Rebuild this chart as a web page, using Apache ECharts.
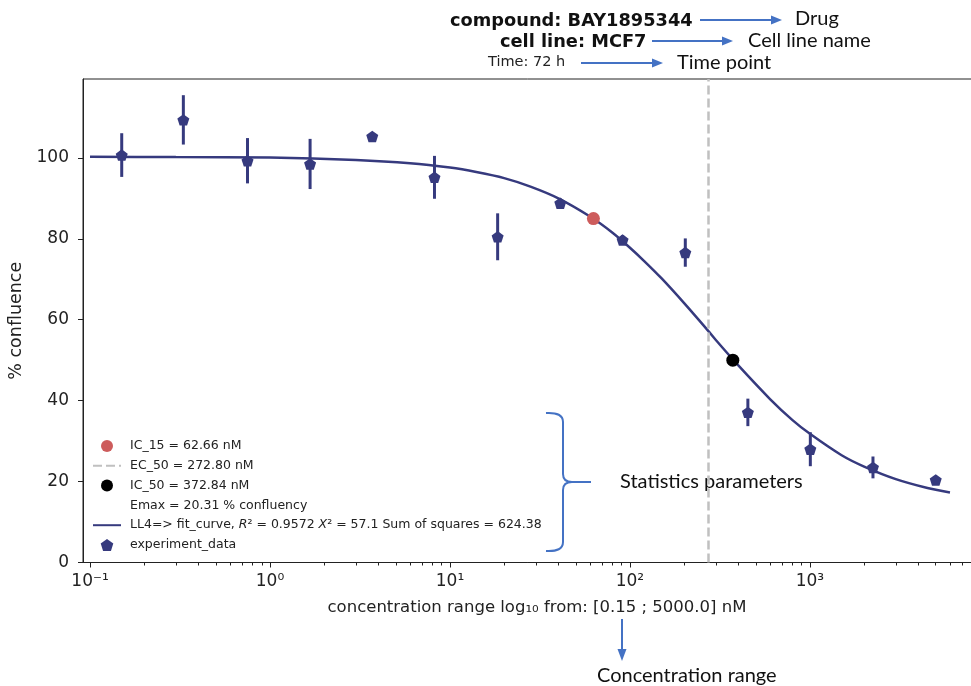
<!DOCTYPE html>
<html>
<head>
<meta charset="utf-8">
<script src="https://cdn.jsdelivr.net/npm/echarts@6/dist/echarts.min.js"></script>
<style>
  html, body { margin: 0; padding: 0; background: #fff; }
  #main { width: 971px; height: 686px; }
</style>
</head>
<body>
<div id="main"></div>
<script>
// concentrations of the dilution series (nM)
var conc = [0.15, 0.33, 0.75, 1.67, 3.7, 8.2, 18.4, 41, 91, 203, 452, 1005, 2240, 5000];
// mean % confluence and its error bar half-length
var confluence = [100.7, 109.4, 99.3, 98.5, 105.3, 95.2, 80.5, 88.8, 79.7, 76.6, 37.1, 28.0, 23.5, 20.4];
var errors = [5.4, 6.1, 5.6, 6.2, 0.6, 5.3, 5.8, 0.8, 1.2, 3.5, 3.4, 4.2, 2.7, 0.6];
// LL4 fit curve
var fitConc = [0.1, 0.3, 1, 3, 6, 10, 14, 20, 28, 40, 60, 80, 100, 120, 150, 200, 272.8, 300, 400, 600, 800, 1000, 1500, 2000, 3000, 4500, 6000];
var fitValues = [100.3, 100.2, 100.1, 99.5, 98.7, 97.6, 96.5, 95.0, 92.9, 90.0, 85.5, 81.5, 77.8, 74.5, 70.2, 64.1, 57.2, 55.0, 48.7, 40.4, 35.2, 31.8, 26.5, 23.7, 20.6, 18.4, 17.3];
var ic15 = [62.66, 85];
var ic50 = [372.84, 50];
var ec50 = 272.8;
// tick labels
var xTicks = [0.1, 1, 10, 100, 1000];
var xTickLabels = ['10⁻¹', '10⁰', '10¹', '10²', '10³'];
var yTicks = [0, 20, 40, 60, 80, 100];

var navy = '#363a7e';
var blue = '#4472c4';

// matplotlib style minor ticks 2..9 per decade
var minorTicks = [];
for (var d = 0.1; d < 10000; d *= 10) {
  for (var k = 2; k <= 9; k++) minorTicks.push(+(k * d).toPrecision(3));
}

var legendNames = [
  'IC_15 = 62.66 nM',
  { name: 'EC_50 = 272.80 nM', itemStyle: { opacity: 0 } },
  'IC_50 = 372.84 nM',
  'Emax = 20.31 % confluency',
  { name: 'LL4=> fit_curve', itemStyle: { opacity: 0 } },
  'experiment_data'
];

function arrowRight(x1, x2, y) {
  return [
    { type: 'line', shape: { x1: x1, y1: y, x2: x2 - 8, y2: y }, style: { stroke: blue, lineWidth: 2 } },
    { type: 'polygon', shape: { points: [[x2 - 11, y - 4.5], [x2, y], [x2 - 11, y + 4.5]] }, style: { fill: blue } }
  ];
}

// the blue curly bracket next to the legend
var bs = { stroke: blue, lineWidth: 2, fill: null };
var bracket = [
  { type: 'bezierCurve', shape: { x1: 546, y1: 413, cpx1: 563, cpy1: 412, x2: 563, y2: 422 }, style: bs },
  { type: 'line', shape: { x1: 563, y1: 422, x2: 563, y2: 474 }, style: bs },
  { type: 'bezierCurve', shape: { x1: 563, y1: 474, cpx1: 563, cpy1: 482, x2: 572, y2: 482 }, style: bs },
  { type: 'line', shape: { x1: 572, y1: 482, x2: 591, y2: 482 }, style: bs },
  { type: 'bezierCurve', shape: { x1: 572, y1: 482, cpx1: 563, cpy1: 482, x2: 563, y2: 490 }, style: bs },
  { type: 'line', shape: { x1: 563, y1: 490, x2: 563, y2: 542 }, style: bs },
  { type: 'bezierCurve', shape: { x1: 563, y1: 542, cpx1: 563, cpy1: 552, x2: 546, y2: 551 }, style: bs }
];

var chart = echarts.init(document.getElementById('main'));
var option = {
  backgroundColor: '#fff',
  animation: false,
  grid: {
    left: 83, top: 79, width: 908, height: 483.5,
    outerBoundsMode: 'none',
    containLabel: false,
    show: true, borderColor: '#222', borderWidth: 1
  },
  xAxis: [
    {
      type: 'log',
      min: 0.0914,
      max: 10140,
      name: 'concentration range log₁₀ from: [0.15 ; 5000.0] nM',
      nameLocation: 'middle',
      nameGap: 37,
      nameTextStyle: { fontFamily: 'DejaVu Sans', fontSize: 16.5, color: '#222' },
      axisLine: { lineStyle: { color: '#222', width: 1 } },
      axisTick: { customValues: xTicks, length: 5, lineStyle: { color: '#222' } },
      axisLabel: {
        customValues: xTicks,
        margin: 11,
        fontFamily: 'DejaVu Sans', fontSize: 17, color: '#222',
        formatter: function (v) {
          var i = xTicks.indexOf(+(+v).toPrecision(3));
          return i >= 0 ? xTickLabels[i] : '';
        }
      },
      splitLine: { show: false }
    },
    {
      type: 'log',
      min: 0.0914,
      max: 10140,
      position: 'bottom',
      axisLine: { show: false },
      axisTick: { customValues: minorTicks, length: 3, lineStyle: { color: '#222' } },
      axisLabel: { show: false },
      splitLine: { show: false }
    }
  ],
  yAxis: {
    type: 'value',
    min: 0,
    max: 119.5,
    name: '% confluence',
    nameLocation: 'middle',
    nameGap: 54,
    nameTextStyle: { fontFamily: 'DejaVu Sans', fontSize: 17.5, color: '#222' },
    axisLine: { show: true, lineStyle: { color: '#222', width: 1 } },
    axisTick: { show: true, customValues: yTicks, length: 5, lineStyle: { color: '#222' } },
    axisLabel: { customValues: yTicks, margin: 14, fontFamily: 'DejaVu Sans', fontSize: 17, color: '#222' },
    splitLine: { show: false }
  },
  legend: {
    orient: 'vertical',
    left: 92,
    top: 439,
    padding: 0,
    itemWidth: 28,
    itemHeight: 12,
    itemGap: 5.8,
    data: legendNames,
    formatter: function (name) {
      if (name === 'LL4=> fit_curve') {
        return 'LL4=> fit_curve, {i|R}² = 0.9572 {i|X}² = 57.1 Sum of squares = 624.38';
      }
      return name;
    },
    textStyle: {
      fontFamily: 'DejaVu Sans', fontSize: 12.5, color: '#222', lineHeight: 14,
      padding: [0, 0, 0, 4],
      rich: { i: { fontFamily: 'DejaVu Sans', fontSize: 12.5, fontStyle: 'italic', color: '#222' } }
    }
  },
  series: [
    {
      name: 'LL4=> fit_curve',
      type: 'line',
      smooth: 0.25,
      symbol: 'none',
      lineStyle: { color: navy, width: 2.5 },
      itemStyle: { color: navy },
      data: fitConc.map(function (c, i) { return [c, fitValues[i]]; }),
      z: 2
    },
    {
      name: 'EC_50 = 272.80 nM',
      type: 'line',
      symbol: 'none',
      data: [],
      lineStyle: { color: '#c0c0c0', width: 2.5, type: [9, 4] },
      itemStyle: { color: '#c0c0c0' },
      markLine: {
        silent: true,
        symbol: 'none',
        label: { show: false },
        lineStyle: { color: '#c0c0c0', width: 2.5, type: [9, 4] },
        data: [{ xAxis: ec50 }]
      },
      z: 1
    },
    {
      name: 'errorbars',
      type: 'custom',
      renderItem: function (params, api) {
        var x = api.value(0), m = api.value(1), e = api.value(2);
        var top = api.coord([x, m + e]);
        var bot = api.coord([x, m - e]);
        return {
          type: 'line',
          shape: { x1: top[0], y1: top[1], x2: bot[0], y2: bot[1] },
          style: { stroke: navy, lineWidth: 3 }
        };
      },
      encode: { x: 0, y: 1 },
      data: conc.map(function (c, i) { return [c, confluence[i], errors[i]]; }),
      z: 3
    },
    {
      name: 'experiment_data',
      type: 'scatter',
      symbol: 'path://M0,-10 L9.51,-3.09 L5.88,8.09 L-5.88,8.09 L-9.51,-3.09 Z',
      symbolKeepAspect: true,
      symbolSize: 12,
      itemStyle: { color: navy, opacity: 1 },
      data: conc.map(function (c, i) { return [c, confluence[i]]; }),
      z: 4
    },
    {
      name: 'IC_15 = 62.66 nM',
      type: 'scatter',
      symbol: 'circle',
      symbolSize: 13,
      itemStyle: { color: '#cd5c5c', opacity: 1 },
      data: [ic15],
      z: 5
    },
    {
      name: 'IC_50 = 372.84 nM',
      type: 'scatter',
      symbol: 'circle',
      symbolSize: 13,
      itemStyle: { color: '#000', opacity: 1 },
      data: [ic50],
      z: 5
    },
    {
      name: 'Emax = 20.31 % confluency',
      type: 'scatter',
      itemStyle: { color: 'rgba(0,0,0,0)' },
      data: []
    }
  ],
  graphic: [
    { type: 'text', left: 450, top: 12, style: { text: 'compound: BAY1895344', font: 'bold 17.8px "DejaVu Sans"', fill: '#111' } },
    { type: 'text', left: 500, top: 33, style: { text: 'cell line: MCF7', font: 'bold 17.8px "DejaVu Sans"', fill: '#111' } },
    { type: 'text', left: 488, top: 55, style: { text: 'Time: 72 h', font: '14.5px "DejaVu Sans"', fill: '#222' } },
    { type: 'text', left: 795, top: 9, style: { text: 'Drug', font: '20px Lato', fill: '#111' } },
    { type: 'text', left: 748, top: 31, style: { text: 'Cell line name', font: '20px Lato', fill: '#111' } },
    { type: 'text', left: 677, top: 53, style: { text: 'Time point', font: '20px Lato', fill: '#111' } },
    { type: 'text', left: 620, top: 472, style: { text: 'Statistics parameters', font: '20px Lato', fill: '#111' } },
    { type: 'text', left: 597, top: 666, style: { text: 'Concentration range', font: '20px Lato', fill: '#111' } },
    { type: 'line', shape: { x1: 622, y1: 619, x2: 622, y2: 652 }, style: { stroke: blue, lineWidth: 2 } },
    { type: 'polygon', shape: { points: [[617.5, 649], [622, 661], [626.5, 649]] }, style: { fill: blue } }
  ].concat(bracket, arrowRight(700, 782, 20), arrowRight(652, 733, 41), arrowRight(581, 663, 63))
};
chart.setOption(option);
</script>
</body>
</html>
